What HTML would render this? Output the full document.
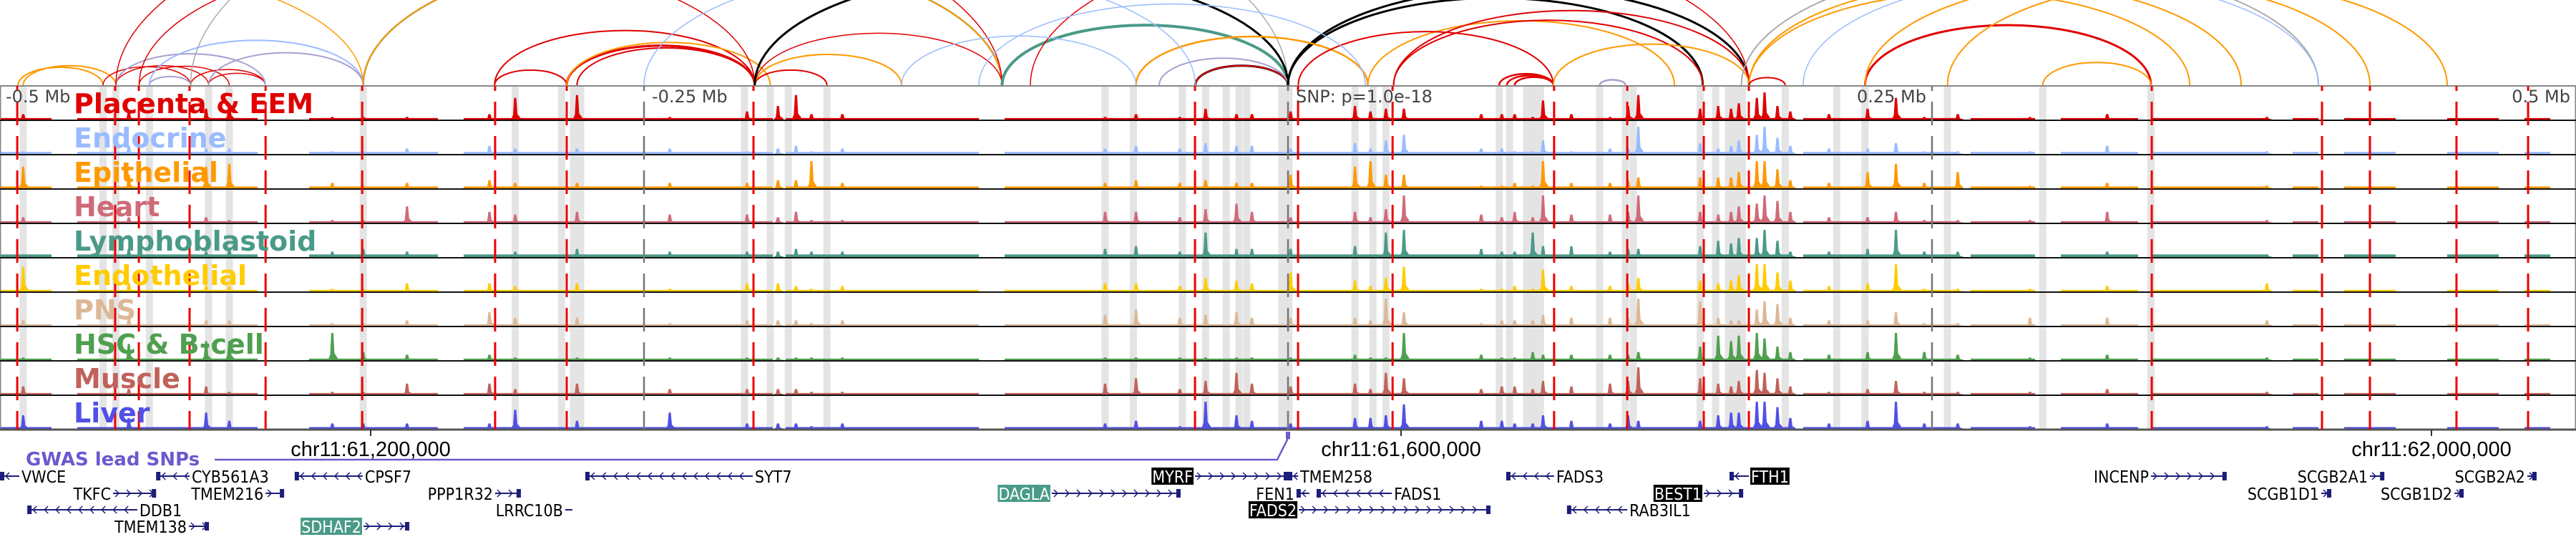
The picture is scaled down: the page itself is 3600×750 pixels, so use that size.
<!DOCTYPE html>
<html><head><meta charset="utf-8"><style>
html,body{margin:0;padding:0;background:#fff;width:3600px;height:750px;overflow:hidden}
svg{display:block}
</style></head><body>
<svg id="chart" xmlns="http://www.w3.org/2000/svg" width="3600" height="750" viewBox="0 0 3600 750">
<defs><clipPath id="arcclip"><rect x="0" y="0" width="3600" height="119"/></clipPath></defs>
<g id="bands"></g>
<g id="signals"></g>
<g id="frames"></g>
<g id="vlines"></g>
<g id="arcs" clip-path="url(#arcclip)"></g>
<g id="labels"></g>
<g id="axis"></g>
<g id="genes"></g>
</svg>
<script>
// ---- data (positions in kb relative to lead SNP) ----
const trackNames = ["Placenta & EEM","Endocrine","Epithelial","Heart","Lymphoblastoid","Endothelial","PNS","HSC & B-cell","Muscle","Liver"];
const trackColors = ["#e00000","#99bbff","#ff9900","#d06a78","#4a9a88","#ffcc00","#dcb896","#4f9f4f","#c0625a","#5050e6"];
const peakKb = [-491,-450,-420,-411,-371,-359,-342,-310,-300,-276,-240,-210,-198,-191,-185,-173,-71,-59,-42,-32,-20,-14,1,26,32,38,45,75,83,88,95,99,110,125,132,136,160,167,172,175,182,185,190,195,210,225,236,247,260,288,318,380];
const peakHeights = [
[0.2,0.1,0.8,0.2,0.1,0.9,0.2,0.1,0.3,0.5],[0.3,0.3,0.5,0.2,0.3,0.3,0.3,0.6,0.2,0.4],[0.4,0.2,0.8,0.2,0.2,0.2,0.2,0.7,0.3,0.6],[0.6,0.2,0.9,0.1,0.3,0.2,0.2,0.7,0.1,0.3],
[0.1,0.1,0.2,0.1,0.2,0.1,0.1,1.0,0.1,0.2],[0.1,0.1,0.1,0.1,0.3,0.1,0.1,0.3,0.1,0.2],[0.1,0.2,0.2,0.6,0.2,0.3,0.2,0.2,0.4,0.2],[0.2,0.3,0.3,0.4,0.1,0.3,0.5,0.2,0.4,0.2],
[0.8,0.2,0.2,0.3,0.2,0.2,0.3,0.1,0.2,0.7],[0.9,0.2,0.2,0.4,0.3,0.3,0.3,0.1,0.4,0.3],[0.1,0.2,0.2,0.3,0.2,0.1,0.1,0.1,0.2,0.6],[0.3,0.1,0.2,0.3,0.2,0.3,0.2,0.1,0.2,0.2],
[0.5,0.2,0.3,0.2,0.2,0.3,0.2,0.1,0.2,0.2],[0.9,0.3,0.3,0.4,0.3,0.2,0.2,0.1,0.2,0.2],[0.2,0.1,1.0,0.1,0.2,0.1,0.1,0.1,0.1,0.1],[0.2,0.2,0.2,0.1,0.2,0.2,0.2,0.1,0.1,0.2],
[0.1,0.2,0.2,0.4,0.3,0.3,0.4,0.1,0.4,0.2],[0.2,0.3,0.3,0.4,0.4,0.3,0.6,0.1,0.6,0.3],[0.1,0.2,0.2,0.2,0.2,0.2,0.3,0.1,0.2,0.1],[0.4,0.4,0.3,0.5,0.9,0.5,0.4,0.1,0.5,1.0],
[0.2,0.3,0.2,0.7,0.3,0.4,0.5,0.1,0.8,0.5],[0.2,0.3,0.2,0.4,0.3,0.3,0.3,0.1,0.4,0.3],[0.3,0.2,0.5,0.2,0.3,0.7,0.3,0.1,0.3,0.2],[0.5,0.4,0.8,0.4,0.4,0.4,0.3,0.2,0.4,0.4],
[0.3,0.2,1.0,0.2,0.1,0.2,0.2,0.1,0.2,0.4],[0.4,0.5,0.5,0.5,0.9,0.5,1.0,0.1,0.8,0.5],[0.4,0.7,0.5,1.0,1.0,0.9,0.5,1.0,0.6,0.9],[0.2,0.2,0.1,0.3,0.3,0.1,0.1,0.2,0.2,0.3],
[0.2,0.2,0.1,0.2,0.2,0.1,0.2,0.1,0.3,0.3],[0.2,0.1,0.2,0.4,0.2,0.2,0.2,0.1,0.3,0.2],[0.1,0.1,0.1,0.2,0.9,0.1,0.2,0.3,0.2,0.2],[0.7,0.5,1.0,1.0,0.4,0.8,0.4,0.2,0.5,0.5],
[0.2,0.1,0.2,0.3,0.4,0.2,0.3,0.2,0.3,0.3],[0.1,0.2,0.2,0.3,0.2,0.2,0.3,0.2,0.4,0.2],[0.5,0.2,0.3,0.4,0.3,0.3,0.3,0.2,0.5,0.5],[0.9,1.0,0.4,1.0,0.3,0.5,1.0,0.3,1.0,0.3],
[0.4,0.4,0.4,0.4,0.4,0.4,0.9,0.5,0.6,0.3],[0.5,0.2,0.4,0.3,0.6,0.3,0.3,0.9,0.4,0.5],[0.4,0.3,0.4,0.4,0.5,0.4,0.2,0.7,0.3,0.6],[0.6,0.5,0.6,0.6,0.7,0.6,0.2,0.9,0.5,0.6],
[0.8,0.7,1.0,0.7,0.7,1.0,0.6,1.0,0.9,1.0],[1.0,1.0,1.0,1.0,1.0,1.0,0.9,0.8,0.8,1.0],[0.5,0.6,0.7,0.8,0.6,0.7,0.8,0.5,0.6,0.8],[0.3,0.3,0.3,0.4,0.2,0.4,0.3,0.3,0.3,0.4],
[0.2,0.2,0.2,0.2,0.2,0.2,0.2,0.2,0.1,0.2],[0.4,0.2,0.6,0.2,0.3,0.3,0.2,0.3,0.2,0.3],[0.8,0.4,0.9,0.4,1.0,1.0,0.5,1.0,0.5,1.0],[0.1,0.1,0.2,0.1,0.2,0.1,0.1,0.3,0.1,0.2],
[0.2,0.1,0.6,0.1,0.2,0.1,0.1,0.2,0.1,0.2],[0.1,0.1,0.1,0.1,0.1,0.1,0.3,0.1,0.1,0.1],[0.2,0.3,0.2,0.4,0.2,0.2,0.3,0.2,0.2,0.2],[0.1,0.1,0.1,0.1,0.1,0.3,0.2,0.1,0.1,0.1]];
const bgSegStart = [-500,-470,-380,-320,-195,-110,200,265,300,335,390,410,450,480];
const bgSegEnd   = [-480,-400,-330,-200,-120,195,260,290,330,380,400,430,470,490];
const bgLevel = [0.03,0.05,0.04,0.03,0.07,0.03,0.03,0.03,0.03,0.04];
const snpLineKb = [-493.3,-455.3,-446.1,-426.4,-396.9,-359.4,-307.8,-280,-207.5,-36.1,3.9,40.6,103.3,131.7,161.4,178.9,335.3,401.4,420,453.6,481.4];
const bandKb = [-491,-460,-455,-442,-419,-411,-359,-300,-282,-276,-211,-201,-194,-179,-71,-60,-41,-32,-24,-19,-16,-1,26,33,38,82,86,94,98,121,131,134,160,166,171,175,193,213,224,256,293,335];
const bandWideKb = [-276,-1,94,175];
const arcStart = [-493,-491,-460,-455,-446,-442,-426,-419,-455,-442,-419,-580,-426,-359,-359,-308,-280,-280,-280,-276,-308,-280,-455,-446,-207,-207,-207,-111,-207,-36,-36,-50,0,0,-59,31,4,41,41,82,85,88,121,103,-100,179,179,176,224,293,256,224,-250,-150,-120,200,179];
const arcEnd   = [-460,-455,-426,-419,-411,-426,-397,-397,-397,-359,-359,-359,0,-111,-111,-207,-207,-207,-207,-207,-280,-201,-111,-207,-179,-150,-111,0,0,0,0,0,161,179,31,150,103,161,179,103,103,103,131,179,179,350,370,400,335,335,450,420,-36,-59,30,400,193];
const arcColor = ["#ff9900","#ff9900","#e00000","#e00000","#e00000","#a8a0d0","#e00000","#e00000","#a8a0d0","#99bbff","#a8a0d0","#ff9900","#aaaaaa","#4a9a88","#ff9900","#e00000","#e00000","#e00000","#e00000","#e00000","#e00000","#ff9900","#e00000","#e00000","#e00000","#ff9900","#e00000","#4a9a88","#000000","#000000","#e00000","#a8a0d0","#000000","#000000","#ff9900","#ff9900","#e00000","#e00000","#e00000","#e00000","#e00000","#e00000","#a8a0d0","#ff9900","#e00000","#ff9900","#ff9900","#aaaaaa","#e00000","#ff9900","#ff9900","#ff9900","#99bbff","#99bbff","#99bbff","#99bbff","#e00000"];
const arcWidth = [2,2,1.5,1.5,1.5,2,1.5,1.5,2,2,2,1.5,1.5,2.5,2,2,3,3,3,2,2,2,1.5,1.5,2,2,1.5,4,3,3,2,2,3,3,2.5,2,2,2,2,2.5,2.5,2.5,2.5,2,1.5,2,2,2,3,2,2,2,1.5,1.5,1.5,1.5,2];
const geneName = ["VWCE","CYB561A3","CPSF7","SYT7","TKFC","TMEM216","PPP1R32","DDB1","LRRC10B","TMEM138","SDHAF2","MYRF","TMEM258","FADS3","FTH1","DAGLA","FEN1","FADS1","BEST1","FADS2","RAB3IL1","INCENP","SCGB2A1","SCGB2A2","SCGB1D1","SCGB1D2"];
const geneStart = [-500,-439.4,-385.6,-272.8,-456.1,-396.9,-307.8,-489.4,-280.6,-426.7,-358.9,-36.1,0,84.7,171.4,-91.7,3.3,11.1,161.4,4.2,108.3,335,420,481.1,401.1,452.8];
const geneEnd   = [-492.5,-426.4,-359.2,-207.8,-439.4,-389.7,-297.8,-446.7,-277.8,-418.9,-341.1,0,3.9,103.3,178.9,-41.7,8.3,40.3,176.7,78.6,131.7,364.4,425.6,484.7,405,456.4];
const geneRow = [0,0,0,0,1,1,1,2,2,3,3,0,0,0,0,1,1,1,1,2,2,0,0,0,1,1];
const geneStrand = [-1,-1,-1,-1,1,1,1,-1,1,1,1,1,-1,-1,-1,1,-1,-1,1,1,-1,1,1,1,1,1];
const geneLabelLeft = [0,0,0,0,1,1,1,0,1,1,1,1,0,0,0,1,1,0,1,1,0,1,1,1,1,1];
const geneHighlight = ["","","","","","","","","","","#4a9a88","#000","","","#000","#4a9a88","","","#000","#000","","","","","",""];
const axisTickMb = [61.2,61.6,62.0];
const axisTickLabels = ["chr11:61,200,000","chr11:61,600,000","chr11:62,000,000"];
const snpPosMb = 61.55611;
const rulerKb = [-500,-250,0,250,500];
const rulerLabels = ["-0.5 Mb","-0.25 Mb","SNP: p=1.0e-18","0.25 Mb","0.5 Mb"];

// ---- scales ----
const NS="http://www.w3.org/2000/svg";
const X0=1800, PXKB=3.6;
const xs = kb => X0 + kb*PXKB;
const TOP=120, TH=48, NT=trackNames.length, BOT=TOP+TH*NT;
function mk(tag, attrs, parent){const e=document.createElementNS(NS,tag);for(const k in attrs)e.setAttribute(k,attrs[k]);parent.appendChild(e);return e;}
const gB=document.getElementById('bands'),gS=document.getElementById('signals'),gF=document.getElementById('frames'),gV=document.getElementById('vlines'),gA=document.getElementById('arcs'),gL=document.getElementById('labels'),gX=document.getElementById('axis'),gG=document.getElementById('genes');

// bands
bandKb.forEach(k=>{const w=bandWideKb.includes(k)?20:10;
 const r=mk('rect',{x:xs(k)-w/2,y:TOP,width:w,height:BOT-TOP,fill:'#e4e4e4'},gB);
 
 });

// signals
for(let t=0;t<NT;t++){
 const base=TOP+TH*(t+1)-1, hmax=38, c=trackColors[t];
 const g=mk('g',{},gS);
 
 
 bgSegStart.forEach((s,i)=>{mk('rect',{x:xs(s),y:base-bgLevel[t]*hmax-1,width:xs(bgSegEnd[i])-xs(s),height:bgLevel[t]*hmax+1,fill:c},g);});
 peakKb.forEach((k,i)=>{const h=peakHeights[i][t]*hmax,x=xs(k);
  const p=mk('polygon',{points:`${x-6},${base} ${x-3},${base-h*0.2} ${x-1.5},${base-h} ${x+1.5},${base-h} ${x+3},${base-h*0.25} ${x+7},${base-h*0.1} ${x+8},${base}`,fill:c},g);
  
  });
}

// frames
mk('rect',{x:0.5,y:TOP,width:3599,height:BOT-TOP,fill:'none',stroke:'#888','stroke-width':2},gF);
for(let t=1;t<=NT;t++){const l=mk('line',{x1:0,x2:3600,y1:TOP+TH*t,y2:TOP+TH*t,stroke:t==NT?'#555':'#111','stroke-width':t==NT?3:2},gF);
 
 }

// ruler dashed ticks
rulerKb.forEach((k,i)=>{ if(i>0&&i<4){const l=mk('line',{x1:xs(k),x2:xs(k),y1:TOP,y2:BOT,stroke:'#777','stroke-width':2.5,'stroke-dasharray':'33 15','stroke-dashoffset':'-22'},gV);
 
 }});
// snp red lines
snpLineKb.forEach(k=>{const l=mk('line',{x1:xs(k),x2:xs(k),y1:TOP,y2:BOT,stroke:'#ee0000','stroke-width':3,'stroke-dasharray':'33 15','stroke-dashoffset':'-22'},gV);
 
 });

// arcs
const ABASE=119;
arcStart.forEach((s,i)=>{const x1=xs(s),x2=xs(arcEnd[i]);const rx=Math.abs(x2-x1)/2,ry=rx*0.42;
 const a=mk('path',{d:`M${Math.min(x1,x2)},${ABASE} A${rx},${ry} 0 0 1 ${Math.max(x1,x2)},${ABASE}`,fill:'none',stroke:arcColor[i],'stroke-width':arcWidth[i]},gA);
 
 });

// ruler labels
rulerKb.forEach((k,i)=>{let x=xs(k),anchor='start';
 if(i==0)x=8; else if(i==1||i==2)x=xs(k)+11; else {x=xs(k)-8;anchor='end';}
 const tx=mk('text',{x:x,y:143,'font-family':'DejaVu Sans, Liberation Sans, sans-serif','font-size':24,fill:'#444','text-anchor':anchor},gL);
 tx.textContent=rulerLabels[i];
 
 });
// track labels
trackNames.forEach((n,t)=>{const tx=mk('text',{x:103,y:TOP+TH*t+38,'font-family':'DejaVu Sans, Liberation Sans, sans-serif','font-weight':'bold','font-size':38,fill:trackColors[t]},gL);
 tx.textContent=n;
 
 });

// axis
const xMb = mb => xs((mb-snpPosMb)*1000);
axisTickMb.forEach((m,i)=>{const x=xMb(m);mk('line',{x1:x,x2:x,y1:BOT,y2:BOT+9,stroke:'#333','stroke-width':2},gX);
 const tx=mk('text',{x:x,y:637,'font-family':'Liberation Sans, sans-serif','font-size':29,fill:'#000','text-anchor':'middle'},gX);
 tx.textContent=axisTickLabels[i];
 
 });
// GWAS
const gw=mk('text',{x:36,y:650,'font-family':'DejaVu Sans, Liberation Sans, sans-serif','font-weight':'bold','font-size':26,fill:'#6a5acd'},gX);
gw.textContent='GWAS lead SNPs';


mk('polyline',{points:`300,642 ${xs(0)-15},642 ${xs(0)},612`,fill:'none',stroke:'#6a5acd','stroke-width':2.5},gX);
const snpm=mk('rect',{x:xs(0)-3,y:603,width:6,height:10,fill:'#6a5acd'},gX);



// genes
const rowY=[665,689,712,735];
geneName.forEach((n,i)=>{const y=rowY[geneRow[i]],x1=xs(geneStart[i]),x2=xs(geneEnd[i]);
 const g=mk('g',{},gG);
 
 
 mk('line',{x1:x1,x2:x2,y1:y,y2:y,stroke:'#1d1d7a','stroke-width':2},g);
 const L=x2-x1;
 for(let a=x1+8;a<x2-4;a+=16){const d=geneStrand[i]*5;
  mk('polyline',{points:`${a-d},${y-5} ${a},${y} ${a-d},${y+5}`,fill:'none',stroke:'#1d1d7a','stroke-width':1.5},g);}
 if(L>12)mk('rect',{x:geneStrand[i]>0?x2-6:x1,y:y-6,width:6,height:12,fill:'#1d1d7a'},g);
 const left=geneLabelLeft[i]===1;
 const tx=mk('text',{x:left?x1-3:x2+3,y:y+9,'font-family':'DejaVu Sans Condensed, DejaVu Sans, Liberation Sans, sans-serif','font-stretch':'condensed','font-size':23,fill:geneHighlight[i]?'#fff':'#000','text-anchor':left?'end':'start'},g);
 tx.textContent=n;
 if(geneHighlight[i]){const bb=tx.getBBox();const r=document.createElementNS(NS,'rect');
  r.setAttribute('x',bb.x-1);r.setAttribute('y',y-12);r.setAttribute('width',bb.width+2);r.setAttribute('height',24);r.setAttribute('fill',geneHighlight[i]);g.insertBefore(r,tx);}
});
</script>
</body></html>
